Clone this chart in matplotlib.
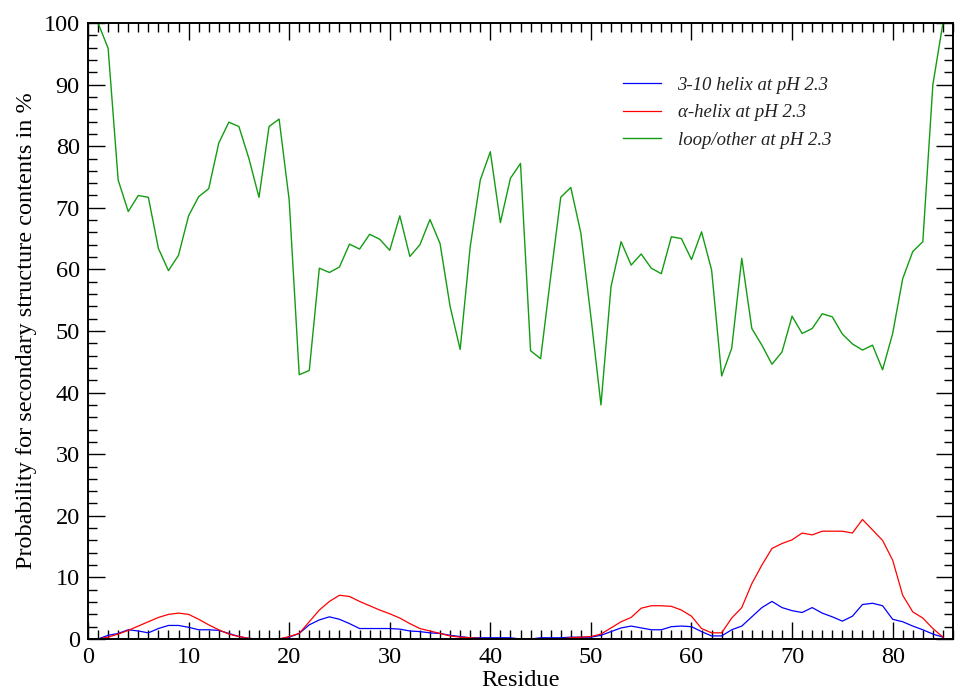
import matplotlib
matplotlib.use("Agg")
import matplotlib.pyplot as plt
from matplotlib.ticker import MultipleLocator

residues = list(range(1, 86))

helix310 = [0.0, 0.6, 0.9, 1.5, 1.3, 1.0, 1.7, 2.2, 2.2, 1.9,
            1.5, 1.5, 1.4, 0.9, 0.4, 0.1, 0.0, 0.0, 0.0, 0.3,
            0.9, 2.3, 3.1, 3.6, 3.2, 2.5, 1.7, 1.7, 1.7, 1.7,
            1.6, 1.3, 1.2, 1.0, 0.9, 0.6, 0.4, 0.2, 0.2, 0.2,
            0.2, 0.2, 0.0, 0.0, 0.2, 0.2, 0.2, 0.3, 0.3, 0.3,
            0.6, 1.2, 1.8, 2.1, 1.8, 1.5, 1.5, 2.0, 2.1, 2.0,
            1.2, 0.5, 0.5, 1.5, 2.1, 3.6, 5.1, 6.1, 5.1, 4.6,
            4.3, 5.1, 4.2, 3.6, 2.9, 3.7, 5.6, 5.8, 5.4, 3.2,
            2.8, 2.1, 1.5, 0.8, 0.3]

alpha_helix = [0.0, 0.3, 0.8, 1.4, 2.1, 2.8, 3.5, 4.0, 4.2, 4.0,
               3.2, 2.3, 1.5, 0.8, 0.4, 0.1, 0.0, 0.0, 0.0, 0.4,
               0.9, 2.8, 4.7, 6.1, 7.1, 6.9, 6.1, 5.4, 4.7, 4.1,
               3.4, 2.5, 1.7, 1.3, 0.9, 0.5, 0.3, 0.2, 0.1, 0.0,
               0.0, 0.0, 0.0, 0.0, 0.0, 0.0, 0.0, 0.2, 0.3, 0.4,
               0.8, 1.8, 2.8, 3.5, 5.0, 5.4, 5.4, 5.3, 4.7, 3.7,
               1.7, 1.0, 1.0, 3.4, 5.1, 9.0, 12.0, 14.7, 15.5, 16.1,
               17.2, 16.9, 17.5, 17.5, 17.5, 17.2, 19.4, 17.7, 16.0, 12.8,
               7.1, 4.4, 3.4, 1.7, 0.3]

loop_other = [100.0, 95.9, 74.5, 69.4, 72.0, 71.7, 63.4, 59.8, 62.3, 68.7,
              71.8, 73.1, 80.5, 83.9, 83.2, 78.0, 71.7, 83.2, 84.4, 71.3,
              42.9, 43.6, 60.2, 59.5, 60.4, 64.1, 63.3, 65.7, 64.9, 63.1,
              68.7, 62.1, 64.0, 68.1, 64.2, 54.0, 47.0, 63.7, 74.5, 79.1,
              67.6, 74.8, 77.2, 46.8, 45.5, 58.8, 71.7, 73.3, 65.9, 52.3,
              38.0, 57.2, 64.5, 60.7, 62.5, 60.2, 59.3, 65.3, 65.0, 61.6,
              66.1, 59.9, 42.7, 47.2, 61.8, 50.4, 47.7, 44.6, 46.6, 52.4,
              49.6, 50.4, 52.8, 52.3, 49.5, 47.9, 46.9, 47.7, 43.7, 49.6,
              58.5, 62.9, 64.5, 90.0, 100.0]

series_labels = ["3-10 helix at pH 2.3", "\u03b1-helix at pH 2.3", "loop/other at pH 2.3"]
xlabel_text = "Residue"
ylabel_text = "Probability for secondary structure contents in %"

plt.rcParams['font.family'] = ['Liberation Serif', 'DejaVu Serif']

fig = plt.figure(figsize=(9.55, 6.92), dpi=100)
ax = fig.add_axes([88/955, 1 - 639/692, 865/955, 616/692])

ax.plot(residues, helix310, color='#0000ff', lw=0.9, label=series_labels[0])
ax.plot(residues, alpha_helix, color='#ff0000', lw=0.9, label=series_labels[1])
ax.plot(residues, loop_other, color='#129c12', lw=1.0, label=series_labels[2])

ax.set_xlim(0, 86)
ax.set_ylim(0, 100)
ax.xaxis.set_major_locator(MultipleLocator(10))
ax.xaxis.set_minor_locator(MultipleLocator(1))
ax.yaxis.set_major_locator(MultipleLocator(10))
ax.yaxis.set_minor_locator(MultipleLocator(2))

ax.tick_params(which='both', direction='in', top=True, right=True, width=1.0,
               colors='black', labelsize=17.5)
ax.tick_params(which='major', length=12.5, pad=6)
ax.tick_params(which='minor', length=6.5)
for s in ax.spines.values():
    s.set_linewidth(1.4)

ax.set_xlabel(xlabel_text, fontsize=17.5, labelpad=1)
ax.set_ylabel(ylabel_text, fontsize=17.5, labelpad=5)

leg = ax.legend(loc='upper left', bbox_to_anchor=(0.610, 0.925), borderaxespad=0,
                frameon=False, prop={'style': 'italic', 'size': 13.5},
                handlelength=2.0, handletextpad=0.9, labelspacing=0.55)
for t in leg.get_texts():
    t.set_color('#222222')

fig.savefig('out.png', dpi=100)
